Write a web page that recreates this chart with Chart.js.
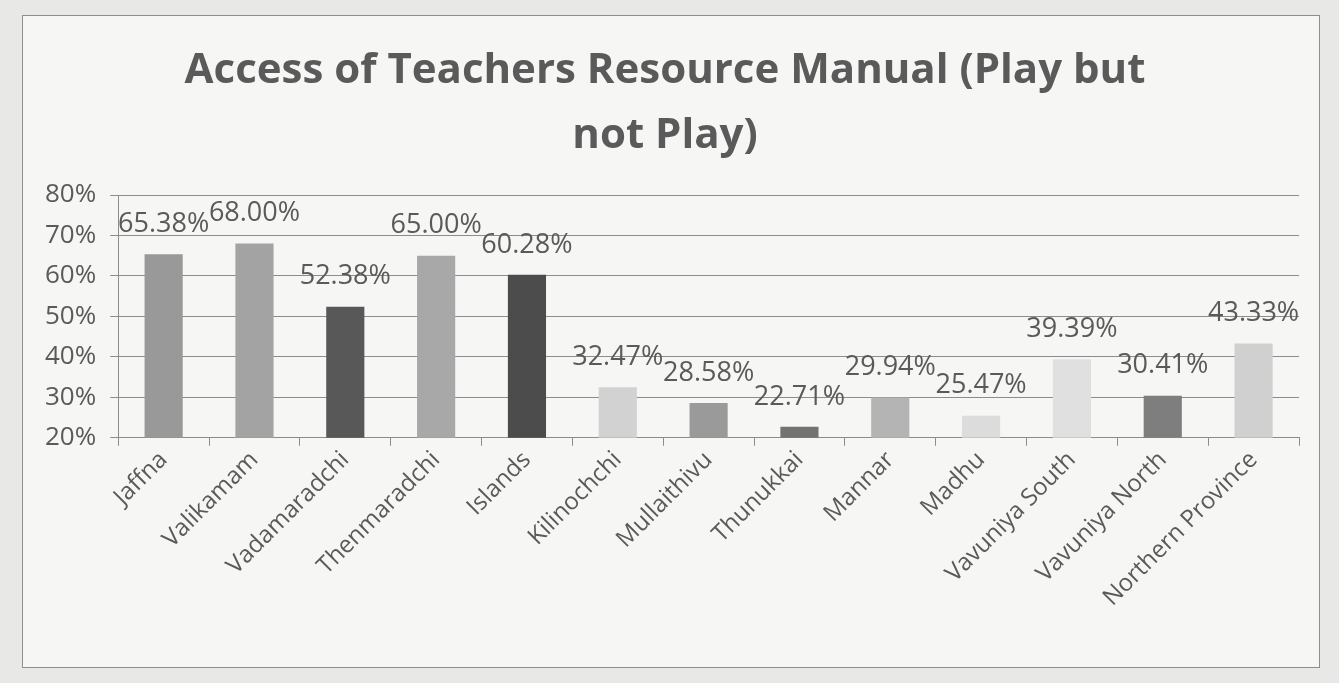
<!DOCTYPE html>
<html>
<head>
<meta charset="utf-8">
<script src="https://cdn.jsdelivr.net/npm/chart.js@4.4.1/dist/chart.umd.min.js"></script>
<style>
    body { margin: 0; background: #e8e8e6; width: 1339px; height: 683px; overflow: hidden; }
    #frame {
        position: absolute; left: 22px; top: 15px;
        width: 1298px; height: 653px;
        background: #f6f6f4; border: 1px solid #8e8e8e; box-sizing: border-box;
    }
</style>
</head>
<body>
<div id="frame"><canvas id="chart"></canvas></div>
<script>
// Data
const districts = [
    'Jaffna', 'Valikamam', 'Vadamaradchi', 'Thenmaradchi', 'Islands',
    'Kilinochchi', 'Mullaithivu', 'Thunukkai', 'Mannar', 'Madhu',
    'Vavuniya South', 'Vavuniya North', 'Northern Province'
];
const accessPct = [65.38, 68.00, 52.38, 65.00, 60.28, 32.47, 28.58, 22.71, 29.94, 25.47, 39.39, 30.41, 43.33];
const barGreys = [
    '#999999', '#a3a3a3', '#585858', '#a8a8a8', '#4c4c4c',
    '#d2d2d2', '#9a9a9a', '#727272', '#b4b4b4', '#dcdcdc',
    '#e0e0e0', '#7e7e7e', '#d0d0d0'
];
const yTicks = [20, 30, 40, 50, 60, 70, 80];

const textGrey = '#5a5a5a';
const lineGrey = '#8c8c8c';
const fontFamily = '"Open Sans", "Noto Sans", sans-serif';

// simple value labels above each bar (Excel style)
const valueLabels = {
    id: 'valueLabels',
    afterDatasetsDraw(chart) {
        const ctx = chart.ctx;
        const meta = chart.getDatasetMeta(0);
        ctx.save();
        ctx.font = '27px ' + fontFamily;
        ctx.fillStyle = textGrey;
        ctx.textAlign = 'center';
        ctx.textBaseline = 'middle';
        meta.data.forEach((bar, i) => {
            ctx.fillText(accessPct[i].toFixed(2) + '%', bar.x, bar.y - 30);
        });
        ctx.restore();
    }
};

new Chart(document.getElementById('chart'), {
    type: 'bar',
    data: {
        labels: districts,
        datasets: [{
            data: accessPct,
            backgroundColor: barGreys,
            borderWidth: 0,
            barPercentage: 0.42,
            categoryPercentage: 1
        }]
    },
    options: {
        responsive: true,
        maintainAspectRatio: false,
        animation: false,
        layout: {
            padding: { left: 8, right: 20, top: 0, bottom: 55 }
        },
        plugins: {
            legend: { display: false },
            tooltip: { enabled: false },
            title: {
                display: true,
                text: ['Access of Teachers Resource Manual (Play but', 'not Play)'],
                color: textGrey,
                font: { family: fontFamily, size: 42, weight: 'bold', lineHeight: 1.56 },
                padding: { top: 22, bottom: 26 }
            }
        },
        scales: {
            x: {
                offset: true,
                grid: {
                    display: true,
                    offset: true,
                    drawOnChartArea: false,
                    color: lineGrey,
                    tickLength: 8
                },
                border: { color: lineGrey },
                ticks: {
                    color: textGrey,
                    font: { family: fontFamily, size: 24 },
                    minRotation: 45,
                    maxRotation: 45,
                    autoSkip: false,
                    padding: 0
                }
            },
            y: {
                min: yTicks[0],
                max: yTicks[yTicks.length - 1],
                afterBuildTicks: (scale) => {
                    scale.ticks = yTicks.map(v => ({ value: v }));
                },
                grid: { color: lineGrey, tickLength: 8 },
                border: { color: lineGrey },
                ticks: {
                    color: textGrey,
                    font: { family: fontFamily, size: 26 },
                    padding: 14,
                    callback: (v) => v + '%'
                }
            }
        }
    },
    plugins: [valueLabels]
});
</script>
</body>
</html>
